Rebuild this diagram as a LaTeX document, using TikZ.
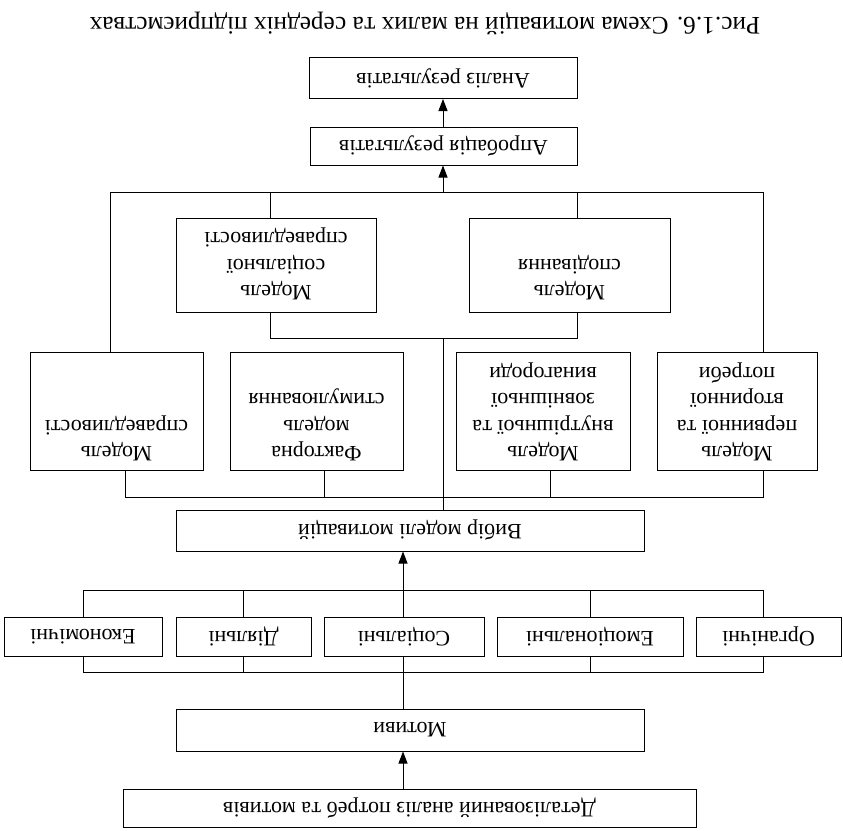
\documentclass[tikz,border=0pt]{standalone}
\usepackage{fontspec}
\setmainfont{Liberation Serif}
\usetikzlibrary{arrows.meta}
\begin{document}
\begin{tikzpicture}[x=1pt,y=-1pt,
  every node/.style={rotate=180, font=\fontsize{22}{26.5}\selectfont},
  box/.style={draw, line width=1pt, inner sep=0pt, align=center},
  lbl/.style={inner sep=0pt, align=center, anchor=north},
  conn/.style={line width=1pt},
  arr/.style={line width=1pt, -{Triangle[length=12pt,width=9pt]}}
]
\useasboundingbox (0,0) rectangle (843,830);

% caption
\node[font=\fontsize{25.3}{30}\selectfont] (cap) at (425,23)
  {Рис.1.6. Схема мотивацій на малих та середніх підприємствах};

% result boxes
\node[box, minimum width=268pt, minimum height=41pt] (A) at (443,78) {Аналіз результатів};
\node[box, minimum width=267pt, minimum height=38pt] (B) at (443.5,146) {Апробація результатів};

% upper pair of models
\node[box, minimum width=200pt, minimum height=94pt] (S1) at (276,265) {};
\node[lbl] (s1t) at ([yshift=12pt]S1.north) {Модель\\соціальної\\справедливості};
\node[box, minimum width=201pt, minimum height=94pt] (S2) at (569.5,265) {};
\node[lbl] (s2t) at ([yshift=12pt]S2.north) {Модель\\сподівання};

% lower row of models
\node[box, minimum width=173pt, minimum height=118pt] (M1) at (116.5,411) {};
\node[lbl] (m1t) at ([yshift=9pt]M1.north) {Модель\\справедливості};
\node[box, minimum width=173pt, minimum height=118pt] (M2) at (316.5,411) {};
\node[lbl] (m2t) at ([yshift=9pt]M2.north) {Факторна\\модель\\стимулювання};
\node[box, minimum width=174pt, minimum height=118pt] (M3) at (543,411) {};
\node[lbl] (m3t) at ([yshift=9pt]M3.north) {Модель\\внутрішньої та\\зовнішньої\\винагороди};
\node[box, minimum width=160pt, minimum height=118pt] (M4) at (737,411) {};
\node[lbl] (m4t) at ([yshift=9pt]M4.north) {Модель\\первинної та\\вторинної\\потреби};

% choice of model
\node[box, minimum width=468pt, minimum height=41pt] (V) at (410,530.5) {Вибір моделі мотивацій};

% kinds of motives
\node[box, minimum width=158pt, minimum height=39pt] (E1) at (83,636.5) {Економічні};
\node[box, minimum width=135pt, minimum height=39pt] (E2) at (243.5,636.5) {Діяльні};
\node[box, minimum width=160pt, minimum height=39pt] (E3) at (404,636.5) {Соціальні};
\node[box, minimum width=186pt, minimum height=39pt] (E4) at (590,636.5) {Емоціональні};
\node[box, minimum width=145pt, minimum height=39pt] (E5) at (768.5,636.5) {Органічні};

% motives and analysis
\node[box, minimum width=468pt, minimum height=42pt] (Mot) at (410,730) {Мотиви};
\node[box, minimum width=573pt, minimum height=38pt] (D) at (409.5,808) {Деталізований аналіз потреб та мотивів};

% trunk positions and bus levels
\coordinate (xA) at (443,0);
\coordinate (xB) at (403,0);
\coordinate (topbus) at (0,192);
\coordinate (sbus) at (0,338);
\coordinate (mbus) at (0,497);
\coordinate (ebus) at (0,590);
\coordinate (lbus) at (0,672);

% arrows into the result boxes
\draw[arr] (B.south -| xA) -- (A.north -| xA);
\draw[arr] (xA |- topbus) -- (B.north -| xA);

% top bus
\draw[conn] ([xshift=-6.5pt]M1.south) |- ([xshift=26pt]M4.south |- topbus) -- ([xshift=26pt]M4.south);
\draw[conn] ([xshift=-6pt]S1.south) -- ([xshift=-6pt]S1.south |- topbus);
\draw[conn] ([xshift=7.5pt]S2.south) -- ([xshift=7.5pt]S2.south |- topbus);

% bus under the upper pair
\draw[conn] ([xshift=-6pt]S1.north) |- ([xshift=7.5pt]S2.north |- sbus) -- ([xshift=7.5pt]S2.north);
\draw[conn] (xA |- sbus) -- (V.south -| xA);

% bus under the lower row
\draw[conn] ([xshift=8.5pt]M1.north) |- ([xshift=26pt]M4.north |- mbus) -- ([xshift=26pt]M4.north);
\draw[conn] ([xshift=7.5pt]M2.north) -- ([xshift=7.5pt]M2.north |- mbus);
\draw[conn] ([xshift=7pt]M3.north) -- ([xshift=7pt]M3.north |- mbus);

% bus above the motive kinds
\draw[conn] (E1.south) |- ([xshift=-5.5pt]E5.south |- ebus) -- ([xshift=-5.5pt]E5.south);
\draw[conn] (E2.south) -- (E2.south |- ebus);
\draw[conn] (E4.south) -- (E4.south |- ebus);
\draw[arr] (E3.south -| xB) -- (V.north -| xB);

% bus below the motive kinds
\draw[conn] (E1.north) |- ([xshift=-5.5pt]E5.north |- lbus) -- ([xshift=-5.5pt]E5.north);
\draw[conn] (E2.north) -- (E2.north |- lbus);
\draw[conn] (E4.north) -- (E4.north |- lbus);
\draw[conn] (E3.north -| xB) -- (Mot.south -| xB);

% analysis to motives
\draw[arr] (D.south -| xB) -- (Mot.north -| xB);
\end{tikzpicture}
\end{document}
